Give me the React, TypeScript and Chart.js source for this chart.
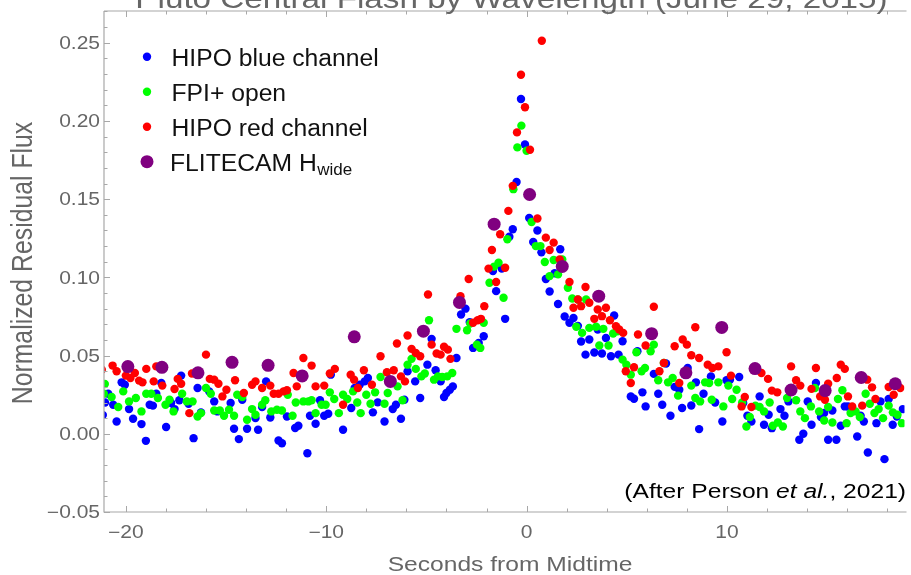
import React, { useEffect, useRef } from "react";
import { Chart, registerables } from "chart.js";

Chart.register(...registerables);

// ---- data: [seconds from midtime, normalized residual flux] ----
const hipoBlue: [number, number][] = [
  [-21.15, 0.012], [-21.04, 0.02], [-20.88, 0.0256], [-20.63, 0.0186], [-20.46, 0.0079], [-20.21, 0.0329],
  [-20.05, 0.0314], [-19.84, 0.0158], [-19.64, 0.0096], [-19.22, 0.0062], [-19.0, -0.0045], [-18.81, 0.0186],
  [-18.65, 0.018], [-18.48, 0.0256], [-18.23, 0.0325], [-17.99, 0.0043], [-17.74, 0.0197], [-17.57, 0.0158],
  [-17.33, 0.0214], [-17.24, 0.0372], [-16.87, 0.0192], [-16.62, -0.0028], [-16.42, 0.0293], [-16.25, 0.0137],
  [-15.84, 0.0271], [-15.59, 0.0207], [-15.43, 0.0143], [-14.77, 0.0197], [-14.6, 0.0032], [-14.36, -0.0034],
  [-14.19, 0.0218], [-13.95, 0.0032], [-13.53, 0.0101], [-13.4, 0.0026], [-13.2, 0.0171], [-13.0, 0.0335],
  [-12.79, 0.0104], [-12.38, -0.0043], [-12.21, -0.006], [-11.96, 0.0111], [-11.55, 0.0037], [-11.39, 0.0051],
  [-10.94, -0.0124], [-10.81, 0.0115], [-10.53, 0.0064], [-10.31, 0.0214], [-10.1, 0.0115], [-9.9, 0.0128],
  [-9.77, 0.0378], [-9.16, 0.0026], [-8.75, 0.0165], [-8.58, 0.0293], [-8.33, 0.0314], [-8.08, 0.0335],
  [-7.92, 0.0357], [-7.67, 0.0137], [-7.43, 0.0201], [-7.09, 0.0079], [-6.68, 0.0158], [-6.52, 0.0186],
  [-6.27, 0.0096], [-6.1, 0.0218], [-5.94, 0.0399], [-5.56, 0.0335], [-5.31, 0.0229], [-4.95, 0.0442],
  [-4.74, 0.0607], [-4.54, 0.0406], [-4.29, 0.0335], [-4.12, 0.0235], [-4.0, 0.0261], [-3.83, 0.0282],
  [-3.68, 0.0303], [-3.5, 0.0485], [-3.27, 0.0763], [-3.05, 0.08], [-2.84, 0.0714], [-2.67, 0.0549],
  [-2.39, 0.0581], [-2.14, 0.0624], [-1.68, 0.104], [-1.52, 0.0912], [-1.24, 0.1056], [-1.07, 0.0735],
  [-0.86, 0.126], [-0.69, 0.1308], [-0.5, 0.161], [-0.28, 0.214], [-0.08, 0.185], [0.13, 0.138],
  [0.33, 0.1226], [0.54, 0.13], [0.74, 0.116], [0.96, 0.099], [1.15, 0.091], [1.4, 0.1026],
  [1.57, 0.083], [1.68, 0.118], [1.9, 0.075], [2.14, 0.071], [2.34, 0.074], [2.56, 0.069],
  [2.72, 0.059], [2.94, 0.0506], [3.13, 0.0603], [3.38, 0.052], [3.55, 0.0667], [3.76, 0.0513],
  [3.96, 0.0613], [4.21, 0.0496], [4.37, 0.0756], [4.59, 0.0506], [4.79, 0.0592], [5.2, 0.0239],
  [5.36, 0.0224], [5.53, 0.0528], [5.78, 0.0265], [5.94, 0.0175], [6.35, 0.0383], [6.57, 0.0256],
  [6.77, 0.0186], [6.96, 0.0449], [7.18, 0.0115], [7.39, 0.03], [7.62, 0.0282], [7.76, 0.0165],
  [8.04, 0.0421], [8.22, 0.0181], [8.45, 0.0329], [8.61, 0.003], [8.83, 0.0256], [9.2, 0.0367],
  [9.41, 0.02], [9.77, 0.0079], [9.98, 0.0342], [10.15, 0.0346], [10.61, 0.0363], [10.81, 0.0197],
  [11.02, 0.0115], [11.22, 0.0079], [11.63, 0.0239], [11.85, 0.0058], [12.08, 0.0122], [12.24, 0.0036],
  [12.67, 0.0158], [12.87, 0.0115], [13.07, 0.0207], [13.61, -0.0038], [13.81, 0.0], [14.03, 0.0207],
  [14.22, 0.0058], [14.44, 0.0325], [14.69, 0.0107], [14.85, 0.0133], [15.05, -0.0038], [15.26, 0.0149],
  [15.46, -0.0038], [15.68, 0.0051], [15.88, 0.0175], [16.04, 0.0175], [16.5, -0.0017], [16.67, 0.0115],
  [16.83, 0.0079], [17.03, -0.012], [17.46, 0.0068], [17.66, 0.0207], [17.86, -0.0162], [18.07, 0.0222],
  [18.27, 0.0058], [18.48, 0.0111], [18.78, 0.0158],
];

const fpiOpen: [number, number][] = [
  [-21.05, 0.0318], [-21.1, 0.0256], [-20.71, 0.0235], [-20.38, 0.0171], [-20.13, 0.0271], [-19.84, 0.0207],
  [-19.5, 0.0229], [-19.22, 0.0143], [-18.98, 0.0256], [-18.73, 0.0256], [-18.4, 0.0229], [-18.02, 0.0186],
  [-17.82, 0.0218], [-17.62, 0.0143], [-17.19, 0.0256], [-16.96, 0.0207], [-16.67, 0.0207], [-16.42, 0.0111],
  [-16.25, 0.0132], [-16.0, 0.0293], [-15.76, 0.0256], [-15.59, 0.0149], [-15.31, 0.0149], [-15.1, 0.0115],
  [-14.85, 0.0154], [-14.6, 0.0115], [-14.44, 0.025], [-14.19, 0.0235], [-13.95, 0.009], [-13.7, 0.0158],
  [-13.53, 0.0122], [-13.2, 0.0186], [-13.04, 0.0214], [-12.74, 0.0143], [-12.46, 0.0154], [-12.21, 0.0149],
  [-11.92, 0.025], [-11.68, 0.0115], [-11.52, 0.02], [-11.14, 0.0207], [-10.89, 0.0207], [-10.73, 0.0214],
  [-10.53, 0.0132], [-10.23, 0.0186], [-10.03, 0.0186], [-9.82, 0.0265], [-9.6, 0.0222], [-9.37, 0.0132],
  [-9.16, 0.025], [-8.95, 0.0222], [-8.66, 0.0271], [-8.45, 0.02], [-8.28, 0.0132], [-8.0, 0.025],
  [-7.79, 0.0192], [-7.56, 0.0265], [-7.29, 0.0363], [-7.09, 0.0192], [-6.93, 0.0261], [-6.44, 0.0303],
  [-6.19, 0.0214], [-5.94, 0.0442], [-5.74, 0.0479], [-5.53, 0.0415], [-5.25, 0.0367], [-5.08, 0.0385],
  [-4.87, 0.0726], [-4.62, 0.0346], [-4.42, 0.0367], [-4.21, 0.0363], [-3.96, 0.0367], [-3.71, 0.0389],
  [-3.5, 0.0671], [-2.97, 0.0662], [-2.81, 0.0705], [-2.48, 0.057], [-2.31, 0.0549], [-2.14, 0.071],
  [-1.85, 0.0966], [-1.62, 0.1069], [-1.4, 0.1094], [-1.15, 0.087], [-0.96, 0.1244], [-0.66, 0.1564],
  [-0.46, 0.1831], [-0.26, 0.197], [0.0, 0.181], [0.25, 0.1354], [0.46, 0.12], [0.69, 0.12],
  [0.91, 0.1098], [1.15, 0.1008], [1.35, 0.1111], [1.57, 0.1019], [1.78, 0.1115], [2.06, 0.0934],
  [2.28, 0.0865], [2.48, 0.0684], [2.56, 0.0859], [2.77, 0.0645], [2.97, 0.0859], [3.13, 0.0677],
  [3.47, 0.0684], [3.63, 0.0564], [3.83, 0.0671], [4.09, 0.0564], [4.32, 0.0641], [4.54, 0.0656],
  [4.79, 0.0474], [4.98, 0.0442], [5.2, 0.0378], [5.48, 0.0521], [5.74, 0.04], [5.91, 0.0421],
  [6.19, 0.0528], [6.35, 0.057], [6.57, 0.0342], [6.85, 0.0453], [7.06, 0.0329], [7.29, 0.0357],
  [7.56, 0.0244], [8.22, 0.0308], [8.42, 0.0229], [8.66, 0.0207], [8.91, 0.0329], [9.11, 0.0325],
  [9.24, 0.0218], [9.57, 0.0329], [9.82, 0.0175], [10.07, 0.0308], [10.26, 0.0222], [10.48, 0.0282],
  [10.76, 0.02], [10.97, 0.0047], [11.14, 0.0107], [11.42, 0.018], [11.63, 0.0171], [11.85, 0.0143],
  [12.13, 0.02], [12.29, 0.0051], [12.54, 0.0072], [12.79, 0.0047], [13.0, 0.0229], [13.45, 0.0214],
  [13.66, 0.0143], [13.89, 0.01], [14.19, 0.0175], [14.39, 0.0293], [14.6, 0.0143], [14.85, 0.0085],
  [15.05, 0.0171], [15.26, 0.0072], [15.54, 0.0222], [15.76, 0.0278], [15.97, 0.0068], [16.17, 0.0133],
  [16.42, 0.0143], [16.63, 0.0107], [16.92, 0.0256], [17.13, 0.0192], [17.36, 0.0133], [17.57, 0.0158],
  [17.79, 0.01], [18.07, 0.018], [18.28, 0.0137], [18.51, 0.0122], [18.73, 0.0068],
];

const hipoRed: [number, number][] = [
  [-21.2, 0.041], [-20.66, 0.0436], [-20.46, 0.04], [-20.0, 0.0372], [-19.77, 0.0357], [-19.55, 0.0389],
  [-19.34, 0.034], [-19.17, 0.0329], [-18.98, 0.0415], [-18.61, 0.0335], [-18.48, 0.0431], [-18.18, 0.0308],
  [-17.57, 0.0286], [-17.41, 0.0351], [-17.24, 0.032], [-16.83, 0.0132], [-16.7, 0.0385], [-16.0, 0.0506],
  [-15.81, 0.0351], [-15.59, 0.0346], [-15.38, 0.032], [-15.18, 0.0239], [-14.98, 0.0282], [-14.55, 0.0342],
  [-14.11, 0.0261], [-13.7, 0.0314], [-13.53, 0.0335], [-13.2, 0.0293], [-12.79, 0.0308], [-12.62, 0.0256],
  [-12.38, 0.0256], [-12.13, 0.0271], [-11.96, 0.0278], [-11.63, 0.0389], [-11.47, 0.0303], [-11.14, 0.0485],
  [-10.73, 0.0436], [-10.53, 0.0303], [-10.1, 0.0308], [-9.82, 0.0385], [-9.57, 0.0415], [-9.16, 0.0186],
  [-8.78, 0.0378], [-8.61, 0.0346], [-8.42, 0.0293], [-8.12, 0.0406], [-7.72, 0.0314], [-7.29, 0.0496],
  [-6.97, 0.0393], [-6.63, 0.0406], [-6.47, 0.0577], [-6.27, 0.0367], [-6.07, 0.0335], [-5.94, 0.0628],
  [-5.74, 0.0543], [-5.53, 0.0517], [-5.31, 0.0496], [-4.92, 0.0891], [-4.74, 0.057], [-4.49, 0.0513],
  [-4.29, 0.0506], [-4.12, 0.0556], [-3.93, 0.0538], [-3.8, 0.0479], [-3.3, 0.088], [-2.89, 0.099],
  [-2.67, 0.071], [-2.44, 0.0726], [-2.28, 0.0735], [-2.11, 0.0816], [-1.9, 0.1056], [-1.73, 0.1175],
  [-1.52, 0.097], [-1.32, 0.1276], [-1.07, 0.1062], [-0.91, 0.1425], [-0.69, 0.1585], [-0.48, 0.1927],
  [-0.28, 0.2295], [-0.08, 0.2088], [0.17, 0.1816], [0.54, 0.1376], [0.76, 0.2513], [0.96, 0.1254],
  [1.15, 0.1175], [1.35, 0.1222], [1.65, 0.1115], [2.14, 0.097], [2.34, 0.0806], [2.56, 0.0859],
  [2.72, 0.0816], [2.94, 0.0938], [3.13, 0.0838], [3.38, 0.0735], [3.55, 0.0795], [3.76, 0.0752],
  [3.96, 0.0806], [4.16, 0.0726], [4.46, 0.0688], [4.62, 0.0667], [4.82, 0.0645], [4.95, 0.04],
  [5.2, 0.0325], [5.36, 0.0425], [5.56, 0.0635], [5.94, 0.0564], [6.35, 0.0812], [6.63, 0.04],
  [6.85, 0.0453], [7.39, 0.056], [7.62, 0.0325], [7.79, 0.0603], [8.0, 0.057], [8.22, 0.0502],
  [8.42, 0.0681], [8.61, 0.0485], [9.04, 0.0442], [9.27, 0.0421], [9.57, 0.0431], [9.98, 0.0521],
  [10.2, 0.0372], [10.73, 0.0175], [10.89, 0.0235], [11.22, 0.0171], [11.72, 0.0389], [12.05, 0.0351],
  [12.24, 0.0276], [12.51, 0.0265], [13.2, 0.0431], [13.45, 0.0342], [13.66, 0.0308], [14.22, 0.0287],
  [14.44, 0.0421], [14.65, 0.0239], [14.89, 0.0218], [15.05, 0.032], [15.48, 0.0357], [15.68, 0.0442],
  [15.88, 0.0415], [16.04, 0.0239], [16.25, 0.0175], [16.75, 0.018], [17.0, 0.0346], [17.24, 0.0297],
  [17.41, 0.0222], [18.07, 0.0299], [18.32, 0.025], [18.65, 0.0293],
];

const flitecamHwide: [number, number][] = [
  [-19.9, 0.043], [-18.2, 0.0425], [-16.4, 0.039], [-14.7, 0.0457], [-12.9, 0.0438], [-11.2, 0.037],
  [-8.6, 0.062], [-6.8, 0.0335], [-5.15, 0.0656], [-3.35, 0.084], [-1.62, 0.134], [0.15, 0.153],
  [1.78, 0.107], [3.6, 0.088], [6.24, 0.064], [7.95, 0.039], [9.74, 0.068], [11.4, 0.0417],
  [13.2, 0.028], [14.9, 0.0276], [16.7, 0.036], [18.4, 0.032],
];

const seriesNames = ["HIPO blue channel", "FPI+ open", "HIPO red channel", "FLITECAM H"];
const seriesSubscript = ["", "", "", "wide"];
const seriesColors = ["#0000ff", "#00ff00", "#ff0000", "#800080"];

const xRange = [-21.09, 18.86];
const yRange = [-0.05, 0.2703];
const xTickValues = [-20, -10, 0, 10];
const xTickLabels = ["\u221220", "\u221210", "0", "10"];
const yTickValues = [-0.05, 0, 0.05, 0.1, 0.15, 0.2, 0.25];
const yTickLabels = ["\u22120.05", "0.00", "0.05", "0.10", "0.15", "0.20", "0.25"];
const xMinorStep = 2;
const yMinorStep = 0.01;

const titleText = "Pluto Central Flash by Wavelength (June 29, 2015)";
const xAxisTitle = "Seconds from Midtime";
const yAxisTitle = "Normalized Residual Flux";
const creditParts = ["(After Person ", "et al.", ", 2021)"];

const FONT = '"Liberation Sans", Arial, sans-serif';
const SX = 1.2;
const FRAME_COLOR = "#a8a8a8";
const LABEL_COLOR = "#666666";

function stretchedText(
  ctx: CanvasRenderingContext2D,
  text: string,
  x: number,
  y: number,
  font: string,
  align: "left" | "center" | "right",
  sx: number
) {
  ctx.save();
  ctx.font = font;
  ctx.textAlign = "left";
  ctx.textBaseline = "alphabetic";
  const w = ctx.measureText(text).width * sx;
  const left = align === "center" ? x - w / 2 : align === "right" ? x - w : x;
  ctx.translate(left, y);
  ctx.scale(sx, 1);
  ctx.fillText(text, 0, 0);
  ctx.restore();
}

const decorPlugin = {
  id: "decor",
  afterDraw(chart: any) {
    const ctx: CanvasRenderingContext2D = chart.ctx;
    const { left, right, top, bottom } = chart.chartArea;
    const xs = chart.scales.x;
    const ys = chart.scales.y;

    ctx.save();
    // frame
    ctx.strokeStyle = FRAME_COLOR;
    ctx.lineWidth = 1.2;
    ctx.beginPath();
    ctx.moveTo(left, top);
    ctx.lineTo(right + 2, top);
    ctx.moveTo(left, top);
    ctx.lineTo(left, bottom);
    ctx.lineTo(right + 2, bottom);
    ctx.stroke();

    // x ticks (bottom and top, inward)
    ctx.lineWidth = 1;
    ctx.beginPath();
    const kx0 = Math.ceil(xRange[0] / xMinorStep);
    const kx1 = Math.floor(xRange[1] / xMinorStep);
    for (let k = kx0; k <= kx1; k++) {
      const v = k * xMinorStep;
      const major = xTickValues.includes(v);
      const len = major ? 6 : 3.5;
      const p = Math.round(xs.getPixelForValue(v)) + 0.5;
      ctx.moveTo(p, bottom);
      ctx.lineTo(p, bottom - len);
      ctx.moveTo(p, top);
      ctx.lineTo(p, top + len);
    }
    // y ticks (left, inward)
    const ky0 = Math.ceil(yRange[0] / yMinorStep - 1e-6);
    const ky1 = Math.floor(yRange[1] / yMinorStep + 1e-6);
    for (let k = ky0; k <= ky1; k++) {
      const v = k * yMinorStep;
      const major = yTickValues.some((t) => Math.abs(t - v) < 1e-6);
      const len = major ? 6 : 3.5;
      const p = Math.round(ys.getPixelForValue(v)) + 0.5;
      ctx.moveTo(left, p);
      ctx.lineTo(left + len, p);
    }
    ctx.stroke();

    // tick labels
    ctx.fillStyle = LABEL_COLOR;
    const tickFont = `17.5px ${FONT}`;
    xTickValues.forEach((v, i) => {
      stretchedText(ctx, xTickLabels[i], xs.getPixelForValue(v), bottom + 26, tickFont, "center", SX);
    });
    yTickValues.forEach((v, i) => {
      stretchedText(ctx, yTickLabels[i], left - 4, ys.getPixelForValue(v) + 6.3, tickFont, "right", SX);
    });

    // axis titles
    stretchedText(ctx, xAxisTitle, 510, 571, `20.5px ${FONT}`, "center", SX);
    ctx.save();
    ctx.translate(31.5, 263);
    ctx.rotate(-Math.PI / 2);
    ctx.scale(1, SX);
    ctx.font = `24.8px ${FONT}`;
    ctx.textAlign = "center";
    ctx.textBaseline = "alphabetic";
    ctx.fillText(yAxisTitle, 0, 0);
    ctx.restore();

    // title (cut off at the top of the picture)
    stretchedText(ctx, titleText, 511.5, 8, `27.7px ${FONT}`, "center", SX);

    // credit text
    ctx.fillStyle = "#000000";
    const cFont = `20.5px ${FONT}`;
    const cItal = `italic 20.5px ${FONT}`;
    ctx.font = cFont;
    const w0 = ctx.measureText(creditParts[0]).width;
    const w2 = ctx.measureText(creditParts[2]).width;
    ctx.font = cItal;
    const w1 = ctx.measureText(creditParts[1]).width;
    const total = (w0 + w1 + w2) * SX;
    let cx = 906 - total;
    stretchedText(ctx, creditParts[0], cx, 498, cFont, "left", SX);
    cx += w0 * SX;
    stretchedText(ctx, creditParts[1], cx, 498, cItal, "left", SX);
    cx += w1 * SX;
    stretchedText(ctx, creditParts[2], cx, 498, cFont, "left", SX);

    // legend
    const rowY = [56.7, 91.7, 126.7, 161.7];
    seriesNames.forEach((name, i) => {
      ctx.fillStyle = seriesColors[i];
      ctx.beginPath();
      ctx.arc(147, rowY[i], i === 3 ? 6.5 : 4.2, 0, Math.PI * 2);
      ctx.fill();
      ctx.fillStyle = "#111111";
      ctx.font = `24.7px ${FONT}`;
      ctx.textAlign = "left";
      ctx.textBaseline = "alphabetic";
      const tx = i === 3 ? 170 : 171.5;
      ctx.fillText(name, tx, rowY[i] + 9.5);
      if (seriesSubscript[i]) {
        const w = ctx.measureText(name).width;
        ctx.font = `17px ${FONT}`;
        ctx.fillText(seriesSubscript[i], tx + w + 0.5, rowY[i] + 13);
      }
    });
    ctx.restore();
  },
};

export default function App() {
  const canvasRef = useRef<HTMLCanvasElement | null>(null);

  useEffect(() => {
    if (!canvasRef.current) return;
    const mk = (pts: [number, number][]) => pts.map(([x, y]) => ({ x, y }));
    const chart = new Chart(canvasRef.current, {
      type: "scatter",
      data: {
        datasets: [
          { label: seriesNames[0], data: mk(hipoBlue), backgroundColor: seriesColors[0], borderColor: seriesColors[0], pointRadius: 4.2, pointBorderWidth: 0, order: 3, clip: 0 } as any,
          { label: seriesNames[1], data: mk(fpiOpen), backgroundColor: seriesColors[1], borderColor: seriesColors[1], pointRadius: 4.2, pointBorderWidth: 0, order: 2, clip: 0 } as any,
          { label: seriesNames[2], data: mk(hipoRed), backgroundColor: seriesColors[2], borderColor: seriesColors[2], pointRadius: 4.2, pointBorderWidth: 0, order: 1, clip: 0 } as any,
          { label: seriesNames[3], data: mk(flitecamHwide), backgroundColor: seriesColors[3], borderColor: seriesColors[3], pointRadius: 6.5, pointBorderWidth: 0, order: 0, clip: 0 } as any,
        ],
      },
      options: {
        animation: false,
        responsive: false,
        events: [],
        layout: { padding: { left: 104, right: 0, top: 11, bottom: 63 } },
        plugins: { legend: { display: false }, tooltip: { enabled: false }, title: { display: false } },
        scales: {
          x: { type: "linear", min: xRange[0], max: xRange[1], display: false },
          y: { type: "linear", min: yRange[0], max: yRange[1], display: false },
        },
      },
      plugins: [decorPlugin],
    });
    return () => chart.destroy();
  }, []);

  return (
    <div style={{ position: "absolute", left: 0, top: 0, width: 911, height: 575, background: "#ffffff" }}>
      <canvas ref={canvasRef} width={911} height={575} />
    </div>
  );
}
